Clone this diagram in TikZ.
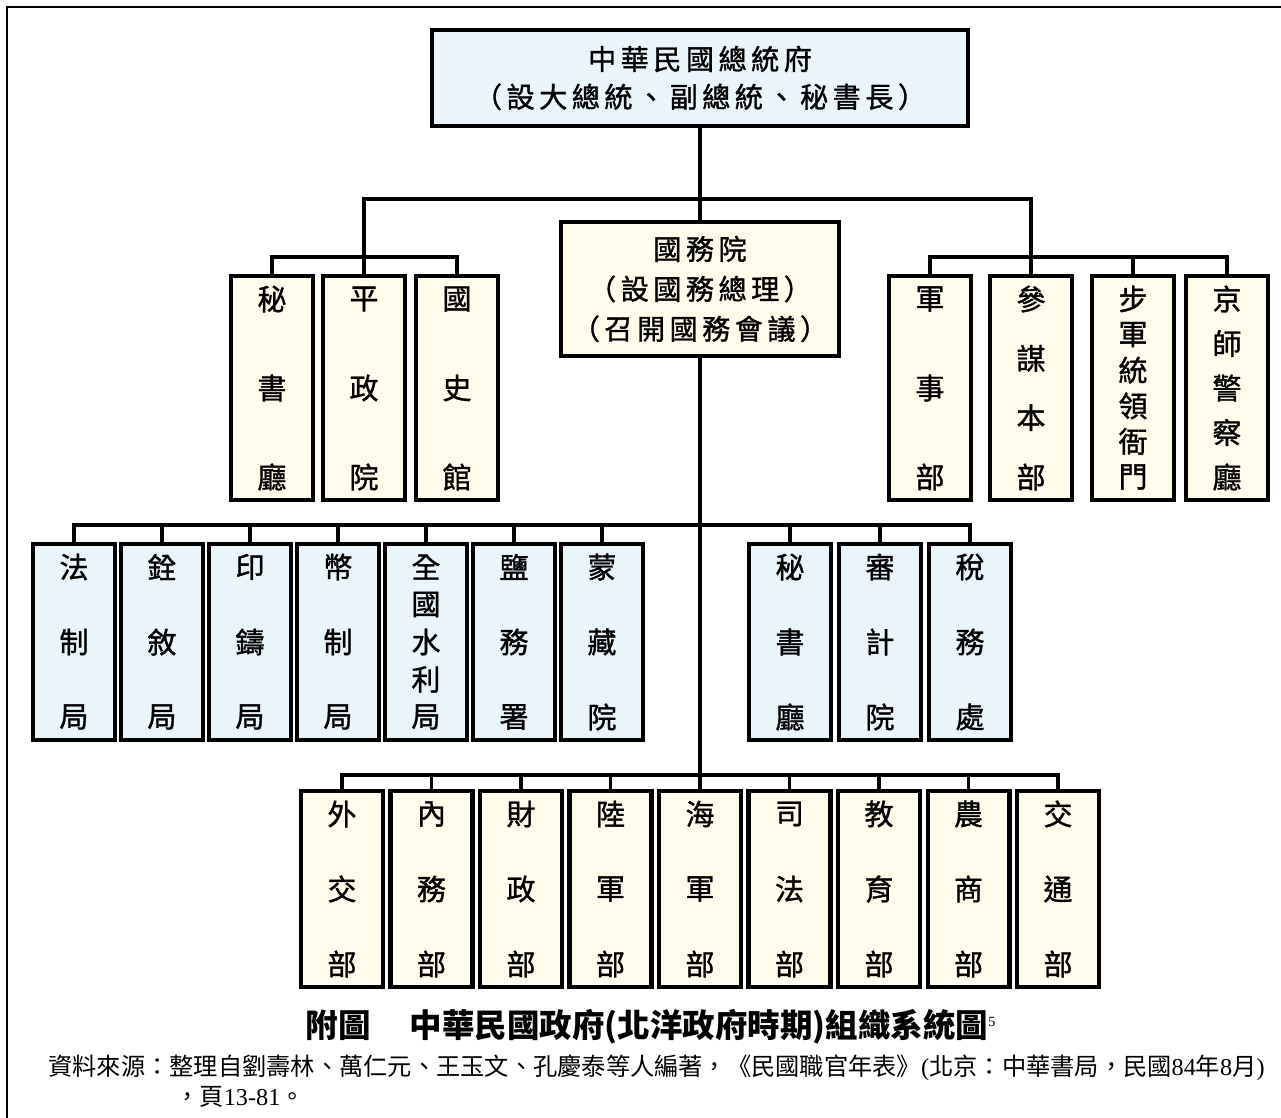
\documentclass[tikz,border=0pt]{standalone}
\usepackage{fontspec}
\setmainfont{Liberation Serif}
\newfontfamily\cjk{Noto Sans CJK TC}
\newfontfamily\cjkbox[FakeBold=1.2]{Noto Sans CJK TC}
\newfontfamily\cjksp[LetterSpace=16, FakeBold=1.2]{Noto Sans CJK TC}
\usetikzlibrary{calc}
\definecolor{paleblue}{HTML}{EAF4FB}
\definecolor{paleyellow}{HTML}{FFFCEC}
\tikzset{
  box/.style={draw, line width=2.3pt, inner sep=0pt, minimum width=1.64cm},
  tallbox/.style={box, fill=paleyellow, minimum height=4.48cm},
  bluebox/.style={box, fill=paleblue, minimum height=3.92cm},
  yellowbox/.style={box, fill=paleyellow, minimum height=3.92cm},
  boxchar/.style={font=\cjkbox\fontsize{16.5}{16.5}\selectfont, inner sep=0pt},
  conn/.style={line width=1.8pt},
}
\newcommand{\vlabel}[3]{%
  \coordinate (#1-t) at ($(#1.north)+(0,25)$);
  \coordinate (#1-b) at ($(#1.south)+(0,-25)$);
  \foreach \ch [count=\k from 0] in {#3} {
    \pgfmathsetmacro{\fr}{\k/(#2-1)}
    \node[boxchar] (#1-\k) at ($(#1-t)!\fr!(#1-b)$) {\ch};
  }
}
\begin{document}
\begin{tikzpicture}[x=0.02cm, y=-0.02cm]
\useasboundingbox (0,0) rectangle (1281,1118);
\draw[line width=0.8pt] (7,1118) -- (7,7) -- (1281,7);

\node[box, fill=paleblue, minimum width=10.72cm, minimum height=1.92cm, align=center, font=\cjksp\fontsize{16}{21.5}\selectfont] (pres) at (700,78) {中華民國總統府\\（設大總統、副總統、秘書長）};
\node[box, fill=paleyellow, minimum width=5.56cm, minimum height=2.68cm, align=center, font=\cjksp\fontsize{16}{22.7}\selectfont] (cab) at (700,289) {國務院\\（設國務總理）\\（召開國務會議）};

\node[tallbox] (msc) at (272,388) {}; \vlabel{msc}{3}{秘,書,廳}
\node[tallbox] (pzy) at (364,388) {}; \vlabel{pzy}{3}{平,政,院}
\node[tallbox] (gsg) at (457,388) {}; \vlabel{gsg}{3}{國,史,館}
\node[tallbox] (jsb) at (930,388) {}; \vlabel{jsb}{3}{軍,事,部}
\node[tallbox] (cmb) at (1031,388) {}; \vlabel{cmb}{4}{參,謀,本,部}
\node[tallbox] (bjt) at (1133,388) {}; \vlabel{bjt}{6}{步,軍,統,領,衙,門}
\node[tallbox] (jcj) at (1227,388) {}; \vlabel{jcj}{5}{京,師,警,察,廳}

\node[bluebox] (fzj) at (74,642) {}; \vlabel{fzj}{3}{法,制,局}
\node[bluebox] (qxj) at (162,642) {}; \vlabel{qxj}{3}{銓,敘,局}
\node[bluebox] (yzj) at (250,642) {}; \vlabel{yzj}{3}{印,鑄,局}
\node[bluebox] (bzj) at (338,642) {}; \vlabel{bzj}{3}{幣,制,局}
\node[bluebox] (slj) at (426,642) {}; \vlabel{slj}{5}{全,國,水,利,局}
\node[bluebox] (yws) at (514,642) {}; \vlabel{yws}{3}{鹽,務,署}
\node[bluebox] (mzy) at (602,642) {}; \vlabel{mzy}{3}{蒙,藏,院}
\node[bluebox] (msz) at (790,642) {}; \vlabel{msz}{3}{秘,書,廳}
\node[bluebox] (sjy) at (880,642) {}; \vlabel{sjy}{3}{審,計,院}
\node[bluebox] (swc) at (970,642) {}; \vlabel{swc}{3}{稅,務,處}

\node[yellowbox] (wjb) at (342,889) {}; \vlabel{wjb}{3}{外,交,部}
\node[yellowbox] (nwb) at (431.5,889) {}; \vlabel{nwb}{3}{內,務,部}
\node[yellowbox] (czb) at (521,889) {}; \vlabel{czb}{3}{財,政,部}
\node[yellowbox] (ljb) at (610.5,889) {}; \vlabel{ljb}{3}{陸,軍,部}
\node[yellowbox] (hjb) at (700,889) {}; \vlabel{hjb}{3}{海,軍,部}
\node[yellowbox] (sfb) at (789.5,889) {}; \vlabel{sfb}{3}{司,法,部}
\node[yellowbox] (jyb) at (879,889) {}; \vlabel{jyb}{3}{教,育,部}
\node[yellowbox] (nsb) at (968.5,889) {}; \vlabel{nsb}{3}{農,商,部}
\node[yellowbox] (jtb) at (1058,889) {}; \vlabel{jtb}{3}{交,通,部}

\coordinate (topbar) at (700,199);
\coordinate (lbar) at (364,257);
\coordinate (rbar) at (1031,257);
\coordinate (mbar) at (700,525);
\coordinate (bbar) at (700,775);
\draw[conn] (pres) -- (cab);
\draw[conn] (pzy.north) |- (topbar) -| (cmb.north);
\draw[conn] (msc.north) |- (lbar) -| (gsg.north);
\draw[conn] (jsb.north) |- (rbar) -| (jcj.north);
\draw[conn] (bjt.north) -- (bjt.north |- rbar);
\draw[conn] (cab) -- (hjb);
\draw[conn] (fzj.north) |- (mbar) -| (swc.north);
\foreach \b in {qxj,yzj,bzj,slj,yws,mzy,msz,sjy}
  \draw[conn] (\b.north) -- (\b.north |- mbar);
\draw[conn] (wjb.north) |- (bbar) -| (jtb.north);
\foreach \b in {nwb,czb,ljb,sfb,jyb,nsb}
  \draw[conn] (\b.north) -- (\b.north |- bbar);

\node[font=\cjk\bfseries\fontsize{18.5}{20}\selectfont] (title) at (651,1027) {附圖\hspace{1.2em}中華民國政府(北洋政府時期)組織系統圖\textsuperscript{\rmfamily\mdseries\fontsize{8}{8}\selectfont 5}};
\node[anchor=west, inner sep=0pt, font=\fontsize{13.8}{15}\selectfont] (src) at (48,1068) {{\cjk 資料來源：整理自劉壽林、萬仁元、王玉文、孔慶泰等人編著，《民國職官年表》}({\cjk 北京：中華書局，民國}84{\cjk 年}8{\cjk 月})};
\node[anchor=west, inner sep=0pt, font=\fontsize{13.8}{15}\selectfont] (page) at (175,1097) {{\cjk ，頁}13-81{\cjk 。}};
\end{tikzpicture}
\end{document}
